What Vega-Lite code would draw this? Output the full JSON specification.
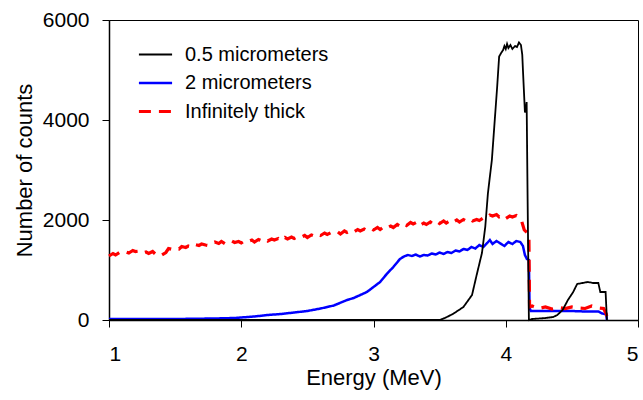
{
  "$schema": "https://vega.github.io/schema/vega-lite/v6.json",
  "width": 529,
  "height": 300,
  "autosize": {"type": "none"},
  "padding": {"left": 109, "top": 20, "right": 5, "bottom": 80},
  "background": "white",
  "config": {
    "font": "Liberation Sans",
    "view": {"stroke": "black", "strokeWidth": 1},
    "axis": {
      "grid": false,
      "domainColor": "black",
      "domainWidth": 1.5,
      "tickColor": "black",
      "tickSize": 7,
      "tickWidth": 1,
      "labelColor": "black",
      "labelFontSize": 21,
      "labelFont": "Liberation Sans",
      "titleColor": "black",
      "titleFontSize": 22,
      "titleFont": "Liberation Sans",
      "titleFontWeight": "normal"
    },
    "legend": {
      "labelFontSize": 20,
      "labelFont": "Liberation Sans",
      "labelColor": "black"
    }
  },
  "data": {
    "values": [
      {"series": "2 micrometers", "energy": 1.0, "counts": 20},
      {"series": "2 micrometers", "energy": 1.5, "counts": 20},
      {"series": "2 micrometers", "energy": 1.8, "counts": 30},
      {"series": "2 micrometers", "energy": 1.95, "counts": 40},
      {"series": "2 micrometers", "energy": 2.1, "counts": 70},
      {"series": "2 micrometers", "energy": 2.2, "counts": 100},
      {"series": "2 micrometers", "energy": 2.3, "counts": 120},
      {"series": "2 micrometers", "energy": 2.4, "counts": 150},
      {"series": "2 micrometers", "energy": 2.5, "counts": 180},
      {"series": "2 micrometers", "energy": 2.6, "counts": 230},
      {"series": "2 micrometers", "energy": 2.7, "counts": 290},
      {"series": "2 micrometers", "energy": 2.8, "counts": 400},
      {"series": "2 micrometers", "energy": 2.85, "counts": 440},
      {"series": "2 micrometers", "energy": 2.9, "counts": 500},
      {"series": "2 micrometers", "energy": 2.95, "counts": 560},
      {"series": "2 micrometers", "energy": 3.0, "counts": 660},
      {"series": "2 micrometers", "energy": 3.05, "counts": 760},
      {"series": "2 micrometers", "energy": 3.1, "counts": 920},
      {"series": "2 micrometers", "energy": 3.15, "counts": 1060},
      {"series": "2 micrometers", "energy": 3.2, "counts": 1220},
      {"series": "2 micrometers", "energy": 3.23, "counts": 1270},
      {"series": "2 micrometers", "energy": 3.26, "counts": 1300},
      {"series": "2 micrometers", "energy": 3.29, "counts": 1280},
      {"series": "2 micrometers", "energy": 3.32, "counts": 1310},
      {"series": "2 micrometers", "energy": 3.35, "counts": 1270},
      {"series": "2 micrometers", "energy": 3.38, "counts": 1300},
      {"series": "2 micrometers", "energy": 3.41, "counts": 1290},
      {"series": "2 micrometers", "energy": 3.44, "counts": 1330},
      {"series": "2 micrometers", "energy": 3.47, "counts": 1310},
      {"series": "2 micrometers", "energy": 3.5, "counts": 1350},
      {"series": "2 micrometers", "energy": 3.53, "counts": 1320},
      {"series": "2 micrometers", "energy": 3.56, "counts": 1360},
      {"series": "2 micrometers", "energy": 3.59, "counts": 1340},
      {"series": "2 micrometers", "energy": 3.62, "counts": 1390},
      {"series": "2 micrometers", "energy": 3.65, "counts": 1370},
      {"series": "2 micrometers", "energy": 3.68, "counts": 1420},
      {"series": "2 micrometers", "energy": 3.71, "counts": 1400},
      {"series": "2 micrometers", "energy": 3.74, "counts": 1460},
      {"series": "2 micrometers", "energy": 3.77, "counts": 1430},
      {"series": "2 micrometers", "energy": 3.8, "counts": 1500},
      {"series": "2 micrometers", "energy": 3.83, "counts": 1460},
      {"series": "2 micrometers", "energy": 3.86, "counts": 1540},
      {"series": "2 micrometers", "energy": 3.88, "counts": 1600},
      {"series": "2 micrometers", "energy": 3.9, "counts": 1520},
      {"series": "2 micrometers", "energy": 3.93, "counts": 1580},
      {"series": "2 micrometers", "energy": 3.96, "counts": 1530},
      {"series": "2 micrometers", "energy": 3.99, "counts": 1480},
      {"series": "2 micrometers", "energy": 4.02, "counts": 1560},
      {"series": "2 micrometers", "energy": 4.05, "counts": 1520},
      {"series": "2 micrometers", "energy": 4.08, "counts": 1580},
      {"series": "2 micrometers", "energy": 4.11, "counts": 1560},
      {"series": "2 micrometers", "energy": 4.13, "counts": 1480},
      {"series": "2 micrometers", "energy": 4.145, "counts": 1300},
      {"series": "2 micrometers", "energy": 4.16, "counts": 1220},
      {"series": "2 micrometers", "energy": 4.175, "counts": 1200},
      {"series": "2 micrometers", "energy": 4.18, "counts": 240},
      {"series": "2 micrometers", "energy": 4.19, "counts": 180},
      {"series": "2 micrometers", "energy": 4.3, "counts": 180},
      {"series": "2 micrometers", "energy": 4.4, "counts": 180},
      {"series": "2 micrometers", "energy": 4.5, "counts": 180},
      {"series": "2 micrometers", "energy": 4.6, "counts": 170},
      {"series": "2 micrometers", "energy": 4.7, "counts": 170},
      {"series": "2 micrometers", "energy": 4.73, "counts": 130},
      {"series": "2 micrometers", "energy": 4.76, "counts": 110},
      {"series": "2 micrometers", "energy": 4.765, "counts": 0},

      {"series": "Infinitely thick", "energy": 1.0, "counts": 1280},
      {"series": "Infinitely thick", "energy": 1.03, "counts": 1330},
      {"series": "Infinitely thick", "energy": 1.05, "counts": 1300},
      {"series": "Infinitely thick", "energy": 1.08, "counts": 1350},
      {"series": "Infinitely thick", "energy": 1.1, "counts": 1330},
      {"series": "Infinitely thick", "energy": 1.13, "counts": 1360},
      {"series": "Infinitely thick", "energy": 1.15, "counts": 1340},
      {"series": "Infinitely thick", "energy": 1.18, "counts": 1390},
      {"series": "Infinitely thick", "energy": 1.2, "counts": 1370},
      {"series": "Infinitely thick", "energy": 1.23, "counts": 1380},
      {"series": "Infinitely thick", "energy": 1.25, "counts": 1340},
      {"series": "Infinitely thick", "energy": 1.28, "counts": 1360},
      {"series": "Infinitely thick", "energy": 1.3, "counts": 1330},
      {"series": "Infinitely thick", "energy": 1.33, "counts": 1370},
      {"series": "Infinitely thick", "energy": 1.35, "counts": 1320},
      {"series": "Infinitely thick", "energy": 1.38, "counts": 1340},
      {"series": "Infinitely thick", "energy": 1.4, "counts": 1300},
      {"series": "Infinitely thick", "energy": 1.43, "counts": 1350},
      {"series": "Infinitely thick", "energy": 1.45, "counts": 1430},
      {"series": "Infinitely thick", "energy": 1.48, "counts": 1410},
      {"series": "Infinitely thick", "energy": 1.5, "counts": 1440},
      {"series": "Infinitely thick", "energy": 1.53, "counts": 1420},
      {"series": "Infinitely thick", "energy": 1.55, "counts": 1470},
      {"series": "Infinitely thick", "energy": 1.58, "counts": 1450},
      {"series": "Infinitely thick", "energy": 1.6, "counts": 1480},
      {"series": "Infinitely thick", "energy": 1.63, "counts": 1460},
      {"series": "Infinitely thick", "energy": 1.65, "counts": 1510},
      {"series": "Infinitely thick", "energy": 1.68, "counts": 1490},
      {"series": "Infinitely thick", "energy": 1.7, "counts": 1520},
      {"series": "Infinitely thick", "energy": 1.73, "counts": 1500},
      {"series": "Infinitely thick", "energy": 1.75, "counts": 1490},
      {"series": "Infinitely thick", "energy": 1.78, "counts": 1540},
      {"series": "Infinitely thick", "energy": 1.8, "counts": 1560},
      {"series": "Infinitely thick", "energy": 1.83, "counts": 1530},
      {"series": "Infinitely thick", "energy": 1.85, "counts": 1570},
      {"series": "Infinitely thick", "energy": 1.88, "counts": 1520},
      {"series": "Infinitely thick", "energy": 1.9, "counts": 1540},
      {"series": "Infinitely thick", "energy": 1.93, "counts": 1580},
      {"series": "Infinitely thick", "energy": 1.95, "counts": 1550},
      {"series": "Infinitely thick", "energy": 1.98, "counts": 1570},
      {"series": "Infinitely thick", "energy": 2.0, "counts": 1540},
      {"series": "Infinitely thick", "energy": 2.03, "counts": 1590},
      {"series": "Infinitely thick", "energy": 2.05, "counts": 1570},
      {"series": "Infinitely thick", "energy": 2.08, "counts": 1600},
      {"series": "Infinitely thick", "energy": 2.1, "counts": 1560},
      {"series": "Infinitely thick", "energy": 2.13, "counts": 1610},
      {"series": "Infinitely thick", "energy": 2.15, "counts": 1590},
      {"series": "Infinitely thick", "energy": 2.18, "counts": 1620},
      {"series": "Infinitely thick", "energy": 2.2, "counts": 1580},
      {"series": "Infinitely thick", "energy": 2.23, "counts": 1620},
      {"series": "Infinitely thick", "energy": 2.25, "counts": 1600},
      {"series": "Infinitely thick", "energy": 2.28, "counts": 1630},
      {"series": "Infinitely thick", "energy": 2.3, "counts": 1590},
      {"series": "Infinitely thick", "energy": 2.33, "counts": 1650},
      {"series": "Infinitely thick", "energy": 2.35, "counts": 1620},
      {"series": "Infinitely thick", "energy": 2.38, "counts": 1660},
      {"series": "Infinitely thick", "energy": 2.4, "counts": 1630},
      {"series": "Infinitely thick", "energy": 2.43, "counts": 1670},
      {"series": "Infinitely thick", "energy": 2.45, "counts": 1650},
      {"series": "Infinitely thick", "energy": 2.48, "counts": 1690},
      {"series": "Infinitely thick", "energy": 2.5, "counts": 1650},
      {"series": "Infinitely thick", "energy": 2.53, "counts": 1700},
      {"series": "Infinitely thick", "energy": 2.55, "counts": 1680},
      {"series": "Infinitely thick", "energy": 2.58, "counts": 1720},
      {"series": "Infinitely thick", "energy": 2.6, "counts": 1690},
      {"series": "Infinitely thick", "energy": 2.63, "counts": 1740},
      {"series": "Infinitely thick", "energy": 2.65, "counts": 1710},
      {"series": "Infinitely thick", "energy": 2.68, "counts": 1750},
      {"series": "Infinitely thick", "energy": 2.7, "counts": 1730},
      {"series": "Infinitely thick", "energy": 2.73, "counts": 1760},
      {"series": "Infinitely thick", "energy": 2.75, "counts": 1720},
      {"series": "Infinitely thick", "energy": 2.78, "counts": 1780},
      {"series": "Infinitely thick", "energy": 2.8, "counts": 1750},
      {"series": "Infinitely thick", "energy": 2.83, "counts": 1790},
      {"series": "Infinitely thick", "energy": 2.85, "counts": 1760},
      {"series": "Infinitely thick", "energy": 2.88, "counts": 1810},
      {"series": "Infinitely thick", "energy": 2.9, "counts": 1780},
      {"series": "Infinitely thick", "energy": 2.93, "counts": 1820},
      {"series": "Infinitely thick", "energy": 2.95, "counts": 1790},
      {"series": "Infinitely thick", "energy": 2.98, "counts": 1830},
      {"series": "Infinitely thick", "energy": 3.0, "counts": 1800},
      {"series": "Infinitely thick", "energy": 3.03, "counts": 1850},
      {"series": "Infinitely thick", "energy": 3.05, "counts": 1810},
      {"series": "Infinitely thick", "energy": 3.08, "counts": 1870},
      {"series": "Infinitely thick", "energy": 3.1, "counts": 1840},
      {"series": "Infinitely thick", "energy": 3.13, "counts": 1880},
      {"series": "Infinitely thick", "energy": 3.15, "counts": 1850},
      {"series": "Infinitely thick", "energy": 3.18, "counts": 1910},
      {"series": "Infinitely thick", "energy": 3.2, "counts": 1880},
      {"series": "Infinitely thick", "energy": 3.23, "counts": 1930},
      {"series": "Infinitely thick", "energy": 3.25, "counts": 1890},
      {"series": "Infinitely thick", "energy": 3.28, "counts": 1950},
      {"series": "Infinitely thick", "energy": 3.3, "counts": 1920},
      {"series": "Infinitely thick", "energy": 3.33, "counts": 1960},
      {"series": "Infinitely thick", "energy": 3.35, "counts": 1890},
      {"series": "Infinitely thick", "energy": 3.38, "counts": 1940},
      {"series": "Infinitely thick", "energy": 3.4, "counts": 1910},
      {"series": "Infinitely thick", "energy": 3.43, "counts": 1960},
      {"series": "Infinitely thick", "energy": 3.45, "counts": 1920},
      {"series": "Infinitely thick", "energy": 3.48, "counts": 1970},
      {"series": "Infinitely thick", "energy": 3.5, "counts": 1930},
      {"series": "Infinitely thick", "energy": 3.53, "counts": 1980},
      {"series": "Infinitely thick", "energy": 3.55, "counts": 1940},
      {"series": "Infinitely thick", "energy": 3.58, "counts": 1990},
      {"series": "Infinitely thick", "energy": 3.6, "counts": 1950},
      {"series": "Infinitely thick", "energy": 3.63, "counts": 2000},
      {"series": "Infinitely thick", "energy": 3.65, "counts": 1960},
      {"series": "Infinitely thick", "energy": 3.68, "counts": 2010},
      {"series": "Infinitely thick", "energy": 3.7, "counts": 1980},
      {"series": "Infinitely thick", "energy": 3.73, "counts": 2020},
      {"series": "Infinitely thick", "energy": 3.75, "counts": 1980},
      {"series": "Infinitely thick", "energy": 3.78, "counts": 2010},
      {"series": "Infinitely thick", "energy": 3.8, "counts": 1990},
      {"series": "Infinitely thick", "energy": 3.83, "counts": 2040},
      {"series": "Infinitely thick", "energy": 3.85, "counts": 2030},
      {"series": "Infinitely thick", "energy": 3.88, "counts": 2100},
      {"series": "Infinitely thick", "energy": 3.9, "counts": 2080},
      {"series": "Infinitely thick", "energy": 3.93, "counts": 2110},
      {"series": "Infinitely thick", "energy": 3.95, "counts": 2060},
      {"series": "Infinitely thick", "energy": 3.98, "counts": 2090},
      {"series": "Infinitely thick", "energy": 4.0, "counts": 2030},
      {"series": "Infinitely thick", "energy": 4.03, "counts": 2080},
      {"series": "Infinitely thick", "energy": 4.05, "counts": 2060},
      {"series": "Infinitely thick", "energy": 4.08, "counts": 2090},
      {"series": "Infinitely thick", "energy": 4.1, "counts": 2050},
      {"series": "Infinitely thick", "energy": 4.12, "counts": 1980},
      {"series": "Infinitely thick", "energy": 4.14, "counts": 1800},
      {"series": "Infinitely thick", "energy": 4.16, "counts": 1750},
      {"series": "Infinitely thick", "energy": 4.175, "counts": 1700},
      {"series": "Infinitely thick", "energy": 4.18, "counts": 260},
      {"series": "Infinitely thick", "energy": 4.2, "counts": 280},
      {"series": "Infinitely thick", "energy": 4.25, "counts": 230},
      {"series": "Infinitely thick", "energy": 4.3, "counts": 260},
      {"series": "Infinitely thick", "energy": 4.35, "counts": 220},
      {"series": "Infinitely thick", "energy": 4.4, "counts": 250},
      {"series": "Infinitely thick", "energy": 4.45, "counts": 230},
      {"series": "Infinitely thick", "energy": 4.5, "counts": 260},
      {"series": "Infinitely thick", "energy": 4.55, "counts": 240},
      {"series": "Infinitely thick", "energy": 4.6, "counts": 230},
      {"series": "Infinitely thick", "energy": 4.65, "counts": 280},
      {"series": "Infinitely thick", "energy": 4.7, "counts": 240},
      {"series": "Infinitely thick", "energy": 4.74, "counts": 230},
      {"series": "Infinitely thick", "energy": 4.76, "counts": 120},
      {"series": "Infinitely thick", "energy": 4.77, "counts": 0},

      {"series": "0.5 micrometers", "energy": 1.0, "counts": 0},
      {"series": "0.5 micrometers", "energy": 3.5, "counts": 0},
      {"series": "0.5 micrometers", "energy": 3.54, "counts": 40},
      {"series": "0.5 micrometers", "energy": 3.6, "counts": 120},
      {"series": "0.5 micrometers", "energy": 3.68, "counts": 260},
      {"series": "0.5 micrometers", "energy": 3.745, "counts": 500},
      {"series": "0.5 micrometers", "energy": 3.78, "counts": 900},
      {"series": "0.5 micrometers", "energy": 3.82, "counts": 1340},
      {"series": "0.5 micrometers", "energy": 3.845, "counts": 1860},
      {"series": "0.5 micrometers", "energy": 3.865, "counts": 2530},
      {"series": "0.5 micrometers", "energy": 3.895, "counts": 3200},
      {"series": "0.5 micrometers", "energy": 3.935, "counts": 4660},
      {"series": "0.5 micrometers", "energy": 3.95, "counts": 5270},
      {"series": "0.5 micrometers", "energy": 3.965, "counts": 5340},
      {"series": "0.5 micrometers", "energy": 3.98, "counts": 5400},
      {"series": "0.5 micrometers", "energy": 3.99, "counts": 5480},
      {"series": "0.5 micrometers", "energy": 4.0, "counts": 5420},
      {"series": "0.5 micrometers", "energy": 4.01, "counts": 5520},
      {"series": "0.5 micrometers", "energy": 4.02, "counts": 5440},
      {"series": "0.5 micrometers", "energy": 4.035, "counts": 5500},
      {"series": "0.5 micrometers", "energy": 4.05, "counts": 5420},
      {"series": "0.5 micrometers", "energy": 4.07, "counts": 5480},
      {"series": "0.5 micrometers", "energy": 4.085, "counts": 5460},
      {"series": "0.5 micrometers", "energy": 4.1, "counts": 5550},
      {"series": "0.5 micrometers", "energy": 4.115, "counts": 5500},
      {"series": "0.5 micrometers", "energy": 4.125, "counts": 5300},
      {"series": "0.5 micrometers", "energy": 4.13, "counts": 5000},
      {"series": "0.5 micrometers", "energy": 4.145, "counts": 4150},
      {"series": "0.5 micrometers", "energy": 4.152, "counts": 4200},
      {"series": "0.5 micrometers", "energy": 4.158, "counts": 4360},
      {"series": "0.5 micrometers", "energy": 4.165, "counts": 2500},
      {"series": "0.5 micrometers", "energy": 4.175, "counts": 0},
      {"series": "0.5 micrometers", "energy": 4.2, "counts": 20},
      {"series": "0.5 micrometers", "energy": 4.3, "counts": 40},
      {"series": "0.5 micrometers", "energy": 4.36, "counts": 60},
      {"series": "0.5 micrometers", "energy": 4.39, "counts": 100},
      {"series": "0.5 micrometers", "energy": 4.43, "counts": 200},
      {"series": "0.5 micrometers", "energy": 4.47, "counts": 400},
      {"series": "0.5 micrometers", "energy": 4.51, "counts": 560},
      {"series": "0.5 micrometers", "energy": 4.54, "counts": 720},
      {"series": "0.5 micrometers", "energy": 4.58, "counts": 740},
      {"series": "0.5 micrometers", "energy": 4.62, "counts": 760},
      {"series": "0.5 micrometers", "energy": 4.66, "counts": 740},
      {"series": "0.5 micrometers", "energy": 4.7, "counts": 740},
      {"series": "0.5 micrometers", "energy": 4.715, "counts": 560},
      {"series": "0.5 micrometers", "energy": 4.735, "counts": 560},
      {"series": "0.5 micrometers", "energy": 4.755, "counts": 560},
      {"series": "0.5 micrometers", "energy": 4.765, "counts": 0}
    ]
  },
  "encoding": {
    "x": {
      "field": "energy", "type": "quantitative",
      "scale": {"domain": [1, 5], "nice": false},
      "axis": {"values": [1, 2, 3, 4, 5], "format": "d", "title": "Energy (MeV)", "labelPadding": 16, "titlePadding": 3}
    },
    "y": {
      "field": "counts", "type": "quantitative",
      "scale": {"domain": [0, 6000], "nice": false},
      "axis": {"values": [0, 2000, 4000, 6000], "format": "d", "title": "Number of counts", "labelPadding": 13, "titlePadding": 6}
    },
    "color": {
      "field": "series", "type": "nominal",
      "scale": {"domain": ["0.5 micrometers", "2 micrometers", "Infinitely thick"], "range": ["black", "#0000ff", "#ff0000"]},
      "legend": {
        "title": null, "orient": "none", "legendX": 28, "legendY": 17,
        "symbolType": "stroke", "symbolSize": 1100,
        "labelOffset": 11, "rowPadding": 0, "padding": 0
      }
    },
    "strokeDash": {
      "field": "series", "type": "nominal",
      "scale": {"domain": ["0.5 micrometers", "2 micrometers", "Infinitely thick"], "range": [[1, 0], [1, 0], [12, 8]]},
      "legend": null
    },
    "strokeWidth": {
      "field": "series", "type": "nominal",
      "scale": {"domain": ["0.5 micrometers", "2 micrometers", "Infinitely thick"], "range": [1.8, 3.2, 2.6]},
      "legend": null
    }
  },
  "layer": [
    {"transform": [{"filter": "datum.series === '2 micrometers'"}], "mark": {"type": "line", "interpolate": "linear"}},
    {"transform": [{"filter": "datum.series === 'Infinitely thick'"}], "mark": {"type": "line", "interpolate": "linear"}},
    {"transform": [{"filter": "datum.series === '0.5 micrometers'"}], "mark": {"type": "line", "interpolate": "linear"}}
  ]
}
